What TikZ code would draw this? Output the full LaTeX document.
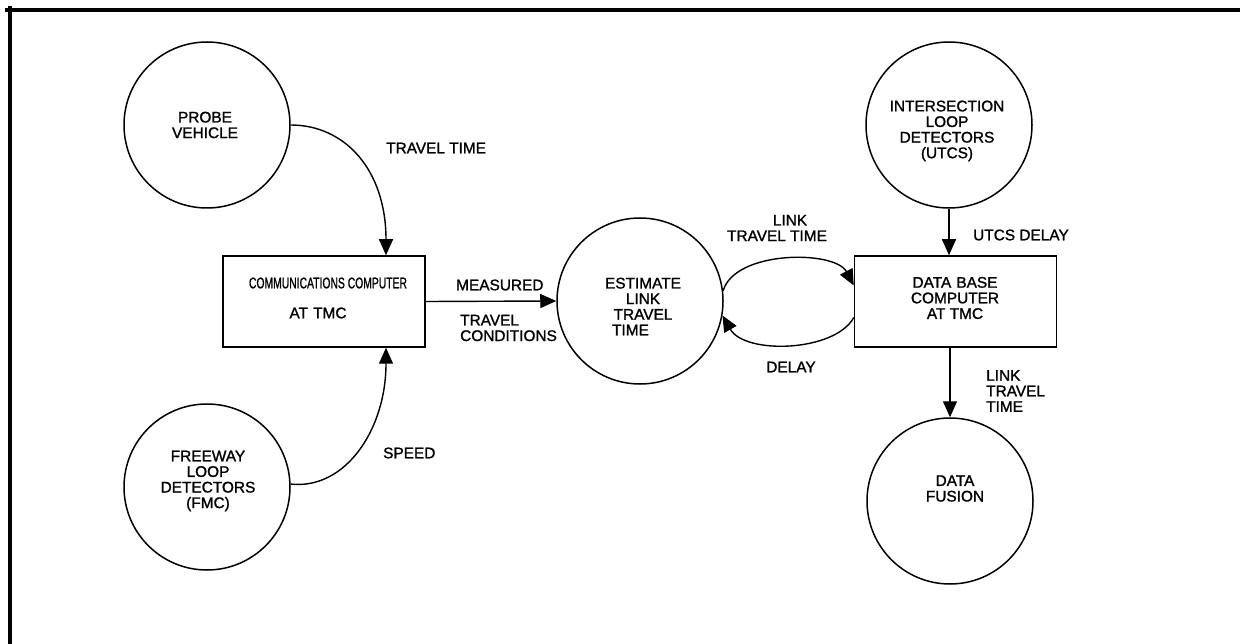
\documentclass[tikz,border=0pt]{standalone}
\usepackage{fontspec}
\setmainfont{Liberation Sans}
\newfontfamily\lblfam{Liberation Sans}[BoldFont={Liberation Sans},BoldFeatures={FakeBold=1.3}]
\usetikzlibrary{arrows.meta,calc}
\newcommand{\lblfont}{\lblfam\bfseries\fontsize{15.4pt}{15.6pt}\selectfont}
\begin{document}
\begin{tikzpicture}[x=1pt,y=-1pt,
  circ/.style={draw, circle, line width=1.5pt, minimum size=166pt, inner sep=0pt},
  boxnode/.style={draw, rectangle, line width=1.5pt, minimum width=202pt, minimum height=91pt, inner sep=0pt},
  txt/.style={inner sep=0pt, font=\lblfont, align=center},
  ltxt/.style={inner sep=0pt, font=\lblfont, align=left, anchor=west},
  arr/.style={line width=1.4pt, -{Triangle[length=16pt,width=14pt]}},
  frame/.style={line width=3.5pt}]
\useasboundingbox (0,0) rectangle (1240,644);
% frame
\coordinate (ftl) at (10,10);
\coordinate (ftr) at (1240,10);
\coordinate (fbl) at (10,644);
\draw[frame] ([xshift=-5pt]ftl) -- (ftr);
\draw[frame] ([yshift=4pt]ftl) -- (fbl);

% nodes
\node[circ] (probe) at (207,125) {};
\node[txt] (probet) at (205,125) {PROBE\\VEHICLE};
\node[circ] (free) at (207,487) {};
\node[txt] (freet) at (208,481) {FREEWAY\\LOOP\\DETECTORS\\(FMC)};
\node[boxnode] (comm) at (324,301.5) {};
\node[txt] (commt1) at (328,283) {\resizebox{158pt}{\height}{COMMUNICATIONS COMPUTER}};
\node[txt] (commt2) at (318,313) {AT\,\,TMC};
\node[circ] (est) at (640,301) {};
\node[txt] (estt) at (643,306.5) {ESTIMATE\\LINK\\TRAVEL\\TIME\hspace*{25pt}};
\node[boxnode] (db) at (955.5,301.5) {};
\node[txt] (dbt) at (955,298) {DATA\,\,BASE\\COMPUTER\\AT TMC};
\node[circ] (inter) at (949,125) {};
\node[txt] (intert) at (947,131) {INTERSECTION\\LOOP\\DETECTORS\\(UTCS)};
\node[circ] (fus) at (950,501) {};
\node[txt] (fust) at (955,488.5) {DATA\\FUSION};

% labels
\node[ltxt] (l1) at (386,148) {TRAVEL TIME};
\node[ltxt] (l2) at (383,453) {SPEED};
\node[ltxt] (l3) at (456,285) {MEASURED};
\node[ltxt] (l4) at (460,328) {TRAVEL\\CONDITIONS};
\node[txt] (l5) at (777,228) {\hspace*{26pt}LINK\\TRAVEL TIME};
\node[txt] (l6) at (791,367) {DELAY};
\node[ltxt] (l7) at (973,235) {UTCS DELAY};
\node[ltxt] (l8) at (986,391) {LINK\\TRAVEL\\TIME};

% connectors
\draw[arr] (probe.east) .. controls (345,125) and (386,170) .. ([xshift=62pt]comm.north);
\draw[arr] (free.2) .. controls (345,490) and (386,430) .. ([xshift=62pt]comm.south);
\draw[arr] (comm.east) -- (est.west);
\draw[arr] (est.7) .. controls (735,250) and (835,250) .. ([yshift=16pt]db.west);
\draw[arr] ([yshift=-16pt]db.west) .. controls (835,352) and (745,355) .. (est.-10);
\draw[arr] (inter.south) -- (inter.south |- db.north);
\draw[arr] (db.south -| fus.north) -- (fus.north);
\end{tikzpicture}
\end{document}
